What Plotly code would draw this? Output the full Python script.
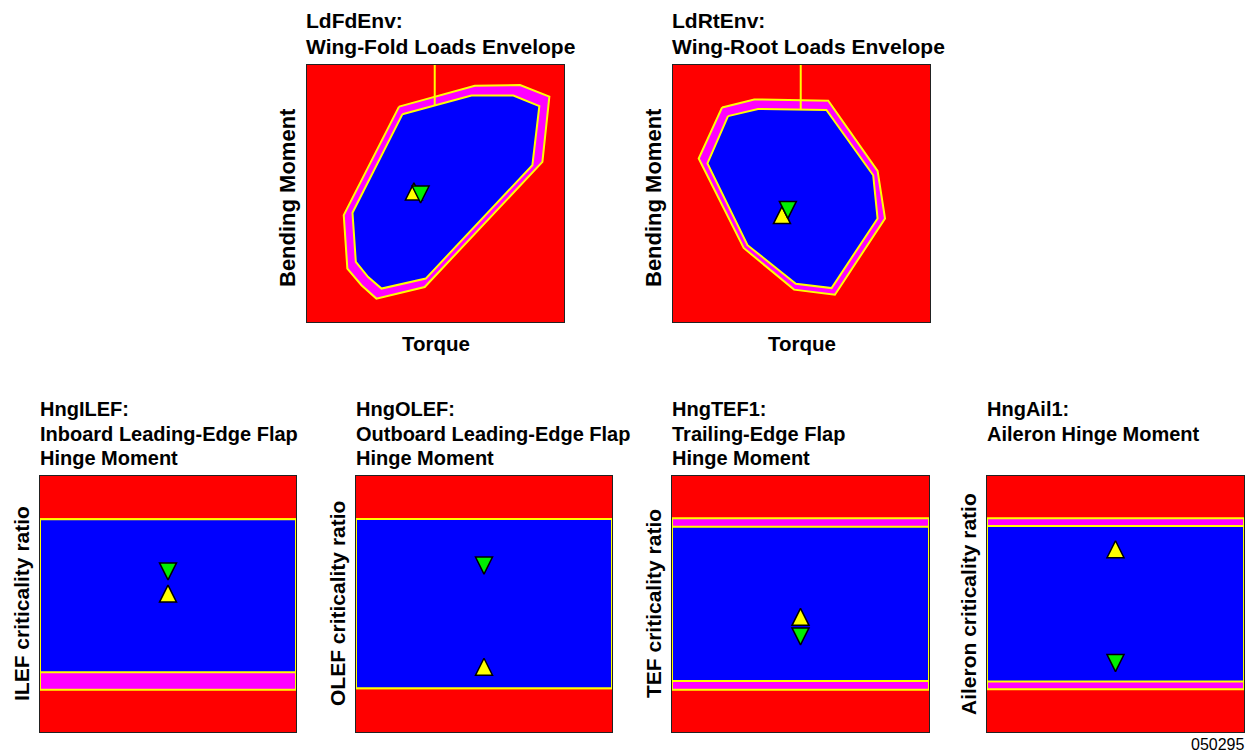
import plotly.graph_objects as go

# ------------------------------------------------------------------ data
# Loads envelopes (normalised torque / bending moment, 0..1 plot units)
fold_outer_torque = [0.358, 0.653, 0.829, 0.943, 0.916, 0.458, 0.270, 0.212, 0.157, 0.143]
fold_outer_bending = [0.838, 0.919, 0.922, 0.877, 0.623, 0.136, 0.091, 0.143, 0.208, 0.416]
fold_inner_torque = [0.371, 0.640, 0.803, 0.904, 0.877, 0.462, 0.290, 0.238, 0.190, 0.177]
fold_inner_bending = [0.808, 0.881, 0.881, 0.840, 0.610, 0.169, 0.130, 0.175, 0.234, 0.425]
fold_ref_torque = [0.497, 0.497]
fold_ref_bending = [1.0, 0.842]

root_outer_torque = [0.191, 0.316, 0.604, 0.796, 0.825, 0.630, 0.471, 0.275, 0.100]
root_outer_bending = [0.835, 0.866, 0.861, 0.588, 0.403, 0.106, 0.126, 0.288, 0.636]
root_inner_torque = [0.214, 0.331, 0.597, 0.779, 0.796, 0.617, 0.478, 0.290, 0.134]
root_inner_bending = [0.801, 0.829, 0.825, 0.571, 0.403, 0.132, 0.149, 0.299, 0.617]
root_ref_torque = [0.497, 0.497]
root_ref_bending = [1.0, 0.826]

envelope_up_torque = [0.416, 0.424]
envelope_up_bending = [0.541, 0.449]
envelope_down_torque = [0.442, 0.447]
envelope_down_bending = [0.463, 0.403]

envelope_titles = [["LdFdEnv:", "Wing-Fold Loads Envelope"],
                   ["LdRtEnv:", "Wing-Root Loads Envelope"]]
envelope_xlabel = "Torque"
envelope_ylabel = "Bending Moment"

# Hinge moments (criticality ratio, 0..1 plot units)
hinge_titles = [["HngILEF:", "Inboard Leading-Edge Flap", "Hinge Moment"],
                ["HngOLEF:", "Outboard Leading-Edge Flap", "Hinge Moment"],
                ["HngTEF1:", "Trailing-Edge Flap", "Hinge Moment"],
                ["HngAil1:", "Aileron Hinge Moment"]]
hinge_ylabels = ["ILEF criticality ratio", "OLEF criticality ratio",
                 "TEF criticality ratio", "Aileron criticality ratio"]
hinge_outer_low = [0.165, 0.171, 0.165, 0.167]
hinge_outer_high = [0.831, 0.832, 0.835, 0.835]
hinge_inner_low = [0.233, 0.171, 0.199, 0.197]
hinge_inner_high = [0.831, 0.832, 0.802, 0.805]
hinge_marker_pos = [0.5, 0.5, 0.5, 0.5]
hinge_up_value = [0.574, 0.288, 0.483, 0.747]
hinge_down_value = [0.594, 0.617, 0.340, 0.236]

figure_id = "050295"

# ------------------------------------------------------------------ layout constants
W, H = 1247, 753
RED, BLUE, MAG, YEL, GRN = "#ff0000", "#0000ff", "#ff00ff", "#ffff00", "#00ee00"
FONT = "Liberation Sans, Arial, Helvetica, sans-serif"
MSIZE = 17

# pixel boxes (left, right, top, bottom)
env_boxes = [(307, 564, 65, 322), (673, 930, 65, 322)]
hng_boxes = [(40, 296, 476, 732), (356, 612, 476, 732),
             (672, 929, 476, 732), (987, 1244, 476, 732)]


def px(x):
    return x / W


def py(y):
    return 1 - y / H


fig = go.Figure()
layout_axes = {}
annotations = []


def add_axes(i, box):
    l, r, t, b = box
    xa = "xaxis" if i == 1 else f"xaxis{i}"
    ya = "yaxis" if i == 1 else f"yaxis{i}"
    common = dict(range=[0, 1], showgrid=False, zeroline=False, showticklabels=False,
                  ticks="", showline=True, mirror=True, linecolor="#222222",
                  linewidth=1.2, fixedrange=True)
    layout_axes[xa] = dict(domain=[px(l), px(r)], anchor=f"y{'' if i == 1 else i}", **common)
    layout_axes[ya] = dict(domain=[py(b), py(t)], anchor=f"x{'' if i == 1 else i}", **common)
    return ("x" if i == 1 else f"x{i}"), ("y" if i == 1 else f"y{i}")


def poly(xs, ys, fillcolor, xr, yr):
    fig.add_trace(go.Scatter(x=list(xs) + [xs[0]], y=list(ys) + [ys[0]], mode="lines",
                             fill="toself", fillcolor=fillcolor,
                             line=dict(color=YEL, width=2), hoverinfo="skip",
                             showlegend=False, xaxis=xr, yaxis=yr))


def markers(xu, yu, xd, yd, xr, yr):
    fig.add_trace(go.Scatter(x=xu, y=yu, mode="markers", showlegend=False, hoverinfo="skip",
                             marker=dict(symbol="arrow-up", size=MSIZE, color=YEL,
                                         line=dict(color="black", width=1.5)),
                             xaxis=xr, yaxis=yr))
    fig.add_trace(go.Scatter(x=xd, y=yd, mode="markers", showlegend=False, hoverinfo="skip",
                             marker=dict(symbol="arrow-down", size=MSIZE, color=GRN,
                                         line=dict(color="black", width=1.5)),
                             xaxis=xr, yaxis=yr))


def text(x, y, s, size=20, bold=True, xanchor="left", angle=0):
    annotations.append(dict(x=x, y=y, xref="paper", yref="paper", text=s, showarrow=False,
                            xanchor=xanchor, yanchor="middle", textangle=angle,
                            font=dict(family=FONT, size=size, color="black",
                                      weight=700 if bold else 400)))


# ---- envelope panels
env_data = [
    (fold_outer_torque, fold_outer_bending, fold_inner_torque, fold_inner_bending,
     fold_ref_torque, fold_ref_bending),
    (root_outer_torque, root_outer_bending, root_inner_torque, root_inner_bending,
     root_ref_torque, root_ref_bending),
]
env_title_mid = [20.5, 46.7]
for k, (box, d) in enumerate(zip(env_boxes, env_data)):
    xr, yr = add_axes(k + 1, box)
    ox, oy, ix, iy, rx, ry = d
    poly(ox, oy, MAG, xr, yr)
    poly(ix, iy, BLUE, xr, yr)
    fig.add_trace(go.Scatter(x=rx, y=ry, mode="lines", line=dict(color=YEL, width=2),
                             hoverinfo="skip", showlegend=False, xaxis=xr, yaxis=yr))
    markers([envelope_up_torque[k]], [envelope_up_bending[k]],
            [envelope_down_torque[k]], [envelope_down_bending[k]], xr, yr)
    l, r, t, b = box
    for line, ymid in zip(envelope_titles[k], env_title_mid):
        text(px(l - 3), py(ymid), line, size=21)
    text(px((l + r) / 2), py(b + 21), envelope_xlabel, size=20.5, xanchor="center")
    text(px(l - 19.5), py((t + b) / 2 + 4), envelope_ylabel, size=22, xanchor="center", angle=-90)

# ---- hinge panels
hng_title_mid = [408.7, 434.0, 458.3]
for k, box in enumerate(hng_boxes):
    xr, yr = add_axes(k + 3, box)
    rect_x = [0, 1, 1, 0]
    poly(rect_x, [hinge_outer_low[k], hinge_outer_low[k], hinge_outer_high[k], hinge_outer_high[k]],
         MAG, xr, yr)
    poly(rect_x, [hinge_inner_low[k], hinge_inner_low[k], hinge_inner_high[k], hinge_inner_high[k]],
         BLUE, xr, yr)
    markers([hinge_marker_pos[k]], [hinge_up_value[k]],
            [hinge_marker_pos[k]], [hinge_down_value[k]], xr, yr)
    l, r, t, b = box
    for line, ymid in zip(hinge_titles[k], hng_title_mid):
        text(px(l - 2), py(ymid), line, size=20)
    text(px(l - 19), py((t + b) / 2), hinge_ylabels[k], size=21, xanchor="center", angle=-90)

text(px(1246), py(744), figure_id, size=16, bold=False, xanchor="right")

fig.update_layout(width=W, height=H, margin=dict(l=0, r=0, t=0, b=0),
                  paper_bgcolor="white", plot_bgcolor=RED, showlegend=False,
                  annotations=annotations, **layout_axes)

fig.write_html("out.html",
               config={"displayModeBar": False, "staticPlot": True},
               post_script="document.body.style.margin='0';document.body.style.padding='0';"
                           "document.body.style.overflow='hidden';")
